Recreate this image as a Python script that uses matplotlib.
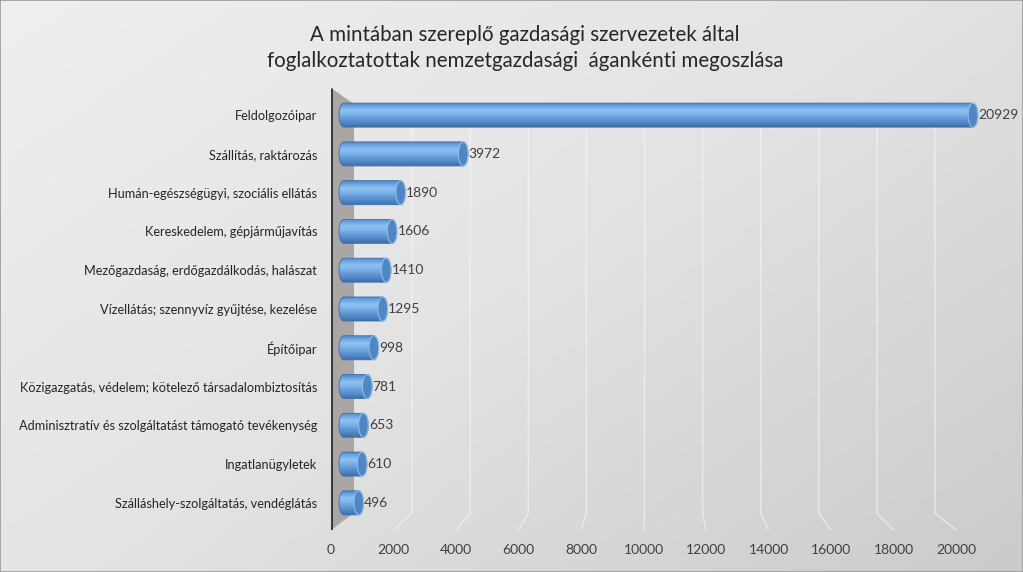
import numpy as np
import matplotlib
matplotlib.use("Agg")
import matplotlib.pyplot as plt
from matplotlib.patches import Polygon, Ellipse
from matplotlib.transforms import Affine2D
from matplotlib.colors import LinearSegmentedColormap

plt.rcParams["font.family"] = ["Lato", "DejaVu Sans"]

# data
categories = [
    "Feldolgozóipar",
    "Szállítás, raktározás",
    "Humán-egészségügyi, szociális ellátás",
    "Kereskedelem, gépjárműjavítás",
    "Mezőgazdaság, erdőgazdálkodás, halászat",
    "Vízellátás; szennyvíz gyűjtése, kezelése",
    "Építőipar",
    "Közigazgatás, védelem; kötelező társadalombiztosítás",
    "Adminisztratív és szolgáltatást támogató tevékenység",
    "Ingatlanügyletek",
    "Szálláshely-szolgáltatás, vendéglátás",
]
values = [20929, 3972, 1890, 1606, 1410, 1295, 998, 781, 653, 610, 496]
x_ticks = list(range(0, 20001, 2000))
title = ("A mintában szereplő gazdasági szervezetek által\n"
         "foglalkoztatottak nemzetgazdasági  ágankénti megoszlása")

W, H = 1023, 572
fig = plt.figure(figsize=(W / 100, H / 100), dpi=100)

# background gradient over the whole figure
bg = fig.add_axes([0, 0, 1, 1], zorder=-10)
gx, gy = np.meshgrid(np.linspace(0, 1, 200), np.linspace(0, 1, 120))
grad = 0.55 * gx + 0.45 * gy
bg_cmap = LinearSegmentedColormap.from_list("bg", ["#efefef", "#e3e3e3", "#cbcbcb"])
bg.imshow(grad, cmap=bg_cmap, aspect="auto", extent=(0, 1, 1, 0))
bg.set_xlim(0, 1)
bg.set_ylim(1, 0)
bg.axis("off")
bg.add_patch(plt.Rectangle((0, 0), 1, 1, fill=False, ec="#9a9a9a", lw=1.2))

fig.text(0.513, 0.957, title, ha="center", va="top", fontsize=14.8,
         color="#262626", linespacing=1.4)

# main axes: front plane 0 at px 331, 20000 at px 956
px_per = 0.03125
left_px, top_px, bot_px = 331, 88, 530
x_max = (1010 - left_px) / px_per
ax = fig.add_axes([left_px / W, 1 - bot_px / H, (1010 - left_px) / W, (bot_px - top_px) / H])
ax.patch.set_alpha(0)
ax.set_xlim(0, x_max)
y_top, y_bot = -0.70, 10.70
ax.set_ylim(y_bot, y_top)
for s in ax.spines.values():
    s.set_visible(False)

n = len(categories)
y = np.arange(n)
unit_px = (bot_px - top_px) / (y_bot - y_top)
back_top = y_top + 16 / unit_px
back_bot = y_top + 425 / unit_px

# mid-depth transform for the bars (3d look)
mid = Affine2D().scale(0.962, 1).translate(410, 0) + ax.transData

# gridlines: vertical on the back wall, then diagonal across the floor
for v in x_ticks[1:]:
    bx = 737 + 0.9295 * v
    ax.plot([bx, bx, v], [back_top, back_bot, y_bot], color="#f8f8f8", lw=1.0,
            alpha=0.6, zorder=1, solid_joinstyle="miter")

# side wall
wall = Polygon([(0, y_top), (737, back_top), (737, back_bot), (0, y_bot)],
               closed=True, fc="#aaa6a4", ec="none", zorder=2)
ax.add_patch(wall)
ax.plot([0, 0], [y_top, y_bot], color="#3a3a3a", lw=2.2, zorder=3, solid_capstyle="butt")

# cylinder bars
bar_h = 0.62
rx = 160  # data units of the elliptic end cap
cyl = LinearSegmentedColormap.from_list(
    "cyl", ["#4b80c0", "#6ea7e3", "#8ec2f2", "#7bb2ea", "#6499d8", "#5287c6", "#3d6ea8"])
col = cyl(np.linspace(0, 1, 64))[:, None, :]
t = np.linspace(-np.pi / 2, np.pi / 2, 40)
for yi, v in zip(y, values):
    top, bottom = yi - bar_h / 2, yi + bar_h / 2
    right = np.column_stack([v + rx * np.cos(t), yi + bar_h / 2 * np.sin(t)])
    leftc = np.column_stack([-rx * np.cos(t[::-1]), yi + bar_h / 2 * np.sin(t[::-1])])
    body = Polygon(np.vstack([right, leftc]), closed=True, fc="none",
                   ec="#3f70a8", lw=0.6, transform=mid, zorder=5)
    ax.add_patch(body)
    im = ax.imshow(col, extent=(-rx, v + rx, bottom, top), aspect="auto",
                   transform=mid, zorder=4, interpolation="bilinear")
    im.set_clip_path(body)
    cap = Ellipse((v, yi), 2 * rx, bar_h, fc="#4f86c4", ec="#8fbde8", lw=0.8,
                  transform=mid, zorder=6)
    ax.add_patch(cap)
    ax.text(v + rx + 20, yi, str(v), transform=mid, ha="left", va="center",
            fontsize=10, color="#404040", zorder=7, clip_on=False)

ax.set_xlim(0, x_max)
ax.set_ylim(y_bot, y_top)

ax.set_yticks(y)
ax.set_yticklabels(categories, fontsize=9.2, color="#262626")
ax.tick_params(axis="y", length=0, pad=10)
ax.set_xticks(x_ticks)
ax.set_xticklabels([str(v) for v in x_ticks], fontsize=10, color="#404040")
ax.tick_params(axis="x", length=0, pad=10)

fig.savefig("out.png", dpi=100)
